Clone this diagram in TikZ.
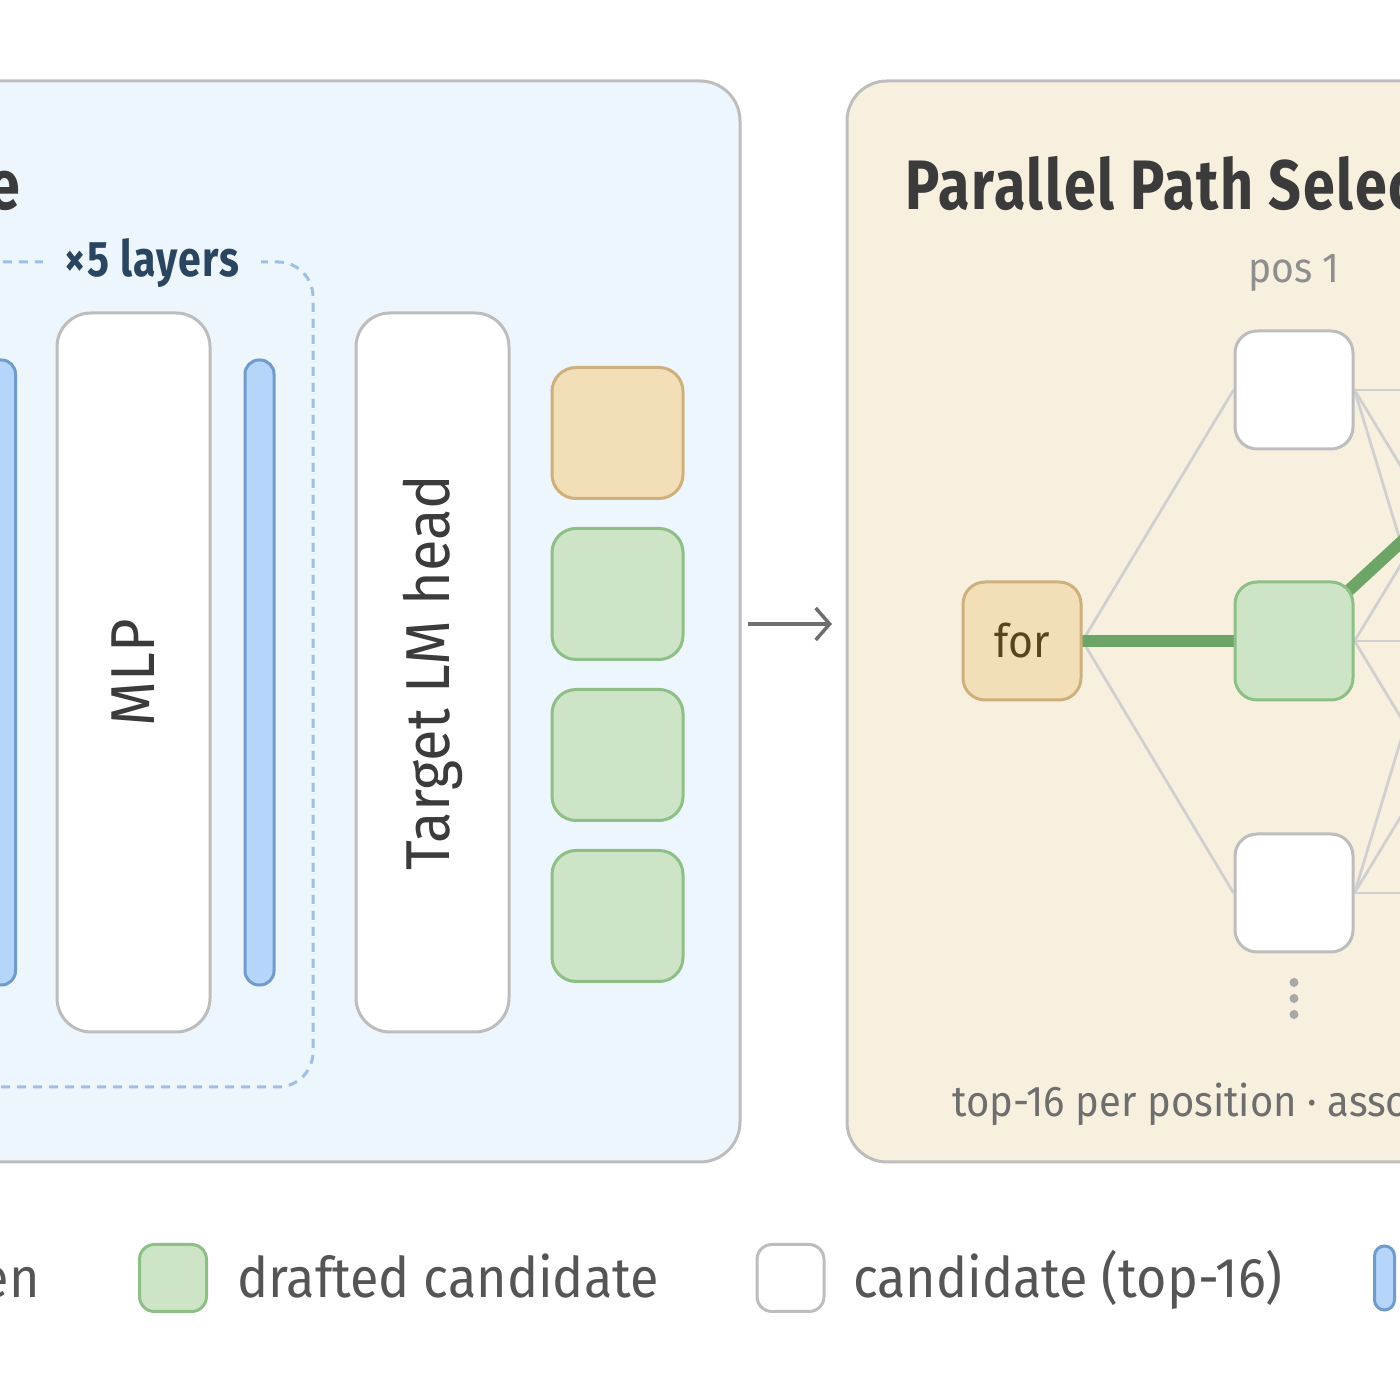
\documentclass[tikz,border=0pt]{standalone}
\usepackage{fontspec}
\setmainfont{Fira Sans}[FakeStretch=0.93]
\newfontfamily\condfont{Fira Sans}[FakeStretch=0.82, LetterSpace=2.5]
\usepackage{tikz}
\usetikzlibrary{arrows.meta, positioning, backgrounds}

\definecolor{panelblue}{HTML}{EDF5FD}
\definecolor{panelbeige}{HTML}{F8F0DF}
\definecolor{bordergray}{HTML}{BDBDBD}
\definecolor{barfill}{HTML}{B5D6FA}
\definecolor{barline}{HTML}{6F9CCB}
\definecolor{tanfill}{HTML}{F2DFB8}
\definecolor{tanline}{HTML}{CFB07C}
\definecolor{greenfill}{HTML}{CDE5C6}
\definecolor{greenline}{HTML}{8DBF86}
\definecolor{bestgreen}{HTML}{6CA566}
\definecolor{edgegray}{HTML}{D0D0D0}
\definecolor{dashblue}{HTML}{9EC0E2}
\definecolor{titledark}{HTML}{3B3B3B}
\definecolor{layerblue}{HTML}{2A4560}
\definecolor{fortext}{HTML}{5A4420}
\definecolor{softgray}{HTML}{8E8E8E}
\definecolor{notegray}{HTML}{6E6E6E}
\definecolor{legendgray}{HTML}{555555}
\definecolor{dotgray}{HTML}{A8A8A8}

\begin{document}
\begin{tikzpicture}[x=1pt, y=1pt, node distance=272pt,
    panel/.style={line width=3pt, draw=bordergray, rounded corners=40pt},
    vblock/.style={draw=bordergray, fill=white, line width=3pt, rounded corners=34pt, rotate=90,
        minimum width=719pt, minimum height=153pt, text=titledark, font=\fontsize{62}{62}\selectfont},
    bar/.style={draw=barline, fill=barfill, line width=3pt, rounded corners=14pt,
        minimum width=29pt, minimum height=625pt, inner sep=0pt},
    tok/.style={rectangle, line width=3pt, inner sep=0pt, minimum size=131pt, rounded corners=24pt},
    ctx/.style={tok, draw=tanline, fill=tanfill},
    draft/.style={tok, draw=greenline, fill=greenfill},
    cand/.style={tok, draw=bordergray, fill=white},
    pathnode/.style={minimum size=118pt, rounded corners=22pt},
    edge/.style={draw=edgegray, line width=2.8pt},
    best/.style={draw=bestgreen, line width=12pt},
    ttl/.style={font=\condfont\bfseries\fontsize{70}{70}\selectfont, text=titledark, inner sep=0pt},
    legtext/.style={anchor=base west, inner sep=0pt, text=legendgray, font=\fontsize{56}{56}\selectfont}]
    \useasboundingbox (0,0) rectangle (1400,1400);
    \clip (0,0) rectangle (1400,1400);

    % left panel: draft stack
    \node[ttl, anchor=base east] (lefttitle) at (20,1190) {e};
    \draw[dashblue, line width=3pt, dash pattern=on 9pt off 7pt, rounded corners=35pt]
        (-600,1138) rectangle (313,313);
    \node[fill=panelblue, text=layerblue, inner xsep=22pt, inner ysep=4pt,
        font=\condfont\bfseries\fontsize{50}{50}\selectfont] (rep) at (152,1137) {×5 layers};
    \node[bar] (norm1) at (1,727.5) {};
    \node[vblock] (mlp) at (133.5,727.5) {MLP};
    \node[bar] (norm2) at (259.5,727.5) {};
    \node[vblock] (head) at (432.5,727.5) {Target LM head};
    \node[ctx] (t0) at (617.5,967) {};
    \node[draft] (t1) [below=27pt of t0] {};
    \node[draft] (t2) [below=27pt of t1] {};
    \node[draft] (t3) [below=27pt of t2] {};

    \coordinate (arrstart) at (748,776);
    \coordinate (arrend) at (832,776);
    \draw[-{Straight Barb[length=14pt, width=32pt, line width=3.5pt]}, line width=3.5pt, notegray]
        (arrstart) -- (arrend);

    % right panel: path selection
    \node[ttl, anchor=base west] (righttitle) at (905,1190) {Parallel Path Selection};
    \node[text=softgray, font=\fontsize{42}{42}\selectfont] (pos1) at (1294,1127) {pos 1};
    \node[tok, pathnode, draw=tanline, fill=tanfill, text=fortext,
        font=\fontsize{46}{46}\selectfont] (for) at (1022,759) {for};
    \node[tok, pathnode, draw=greenline, fill=greenfill] (sel) [right of=for] {};
    \node[tok, pathnode, draw=bordergray, fill=white] (top) [above of=sel, node distance=251pt] {};
    \node[tok, pathnode, draw=bordergray, fill=white] (bot) [below of=sel, node distance=252pt] {};
    \foreach \dy/\nm in {29/da, 45/db, 61/dc}
        \fill[dotgray] ([yshift=-\dy pt]bot.south) circle (4.5pt) coordinate (\nm);
    \node[anchor=base west, inner sep=0pt, text=notegray, font=\fontsize{43}{43}\selectfont]
        (note) at (952,283) {top-16 per position · asso};

    \coordinate (nexta) at (1507,1010);
    \coordinate (nextb) at (1507,759);
    \coordinate (nextc) at (1507,507);
    \coordinate (nextbest) at (1566,1010);

    % legend
    \node[legtext, anchor=base east] (legfirst) at (40,102) {en};
    \node[tok, draw=greenline, fill=greenfill, minimum size=67pt, rounded corners=15pt] (legdraft) at (173,122) {};
    \node[legtext] (legdrafttext) at (237,102) {drafted candidate};
    \node[tok, draw=bordergray, fill=white, minimum size=67pt, rounded corners=15pt] (legcand) at (790.5,122) {};
    \node[legtext] (legcandtext) at (853,102) {candidate (top-16)};
    \node[bar, minimum height=64pt, minimum width=20pt, rounded corners=10pt] (legbar) at (1384.5,122) {};

    \begin{scope}[on background layer]
        \fill[white] (0,0) rectangle (1400,1400);
        \filldraw[panel, fill=panelblue] (-700,1319) rectangle (740,238);
        \filldraw[panel, fill=panelbeige] (847,1319) rectangle (2300,238);
        \path[edge] (for.east) -- (top.west);
        \path[edge] (for.east) -- (bot.west);
        \foreach \src in {top, sel, bot}
            \foreach \dst in {nexta, nextb, nextc}
                \path[edge] (\src.east) -- (\dst);
        \path[best] (for.center) -- (sel.center);
        \path[best] (sel.center) -- (nextbest);
    \end{scope}
\end{tikzpicture}
\end{document}
